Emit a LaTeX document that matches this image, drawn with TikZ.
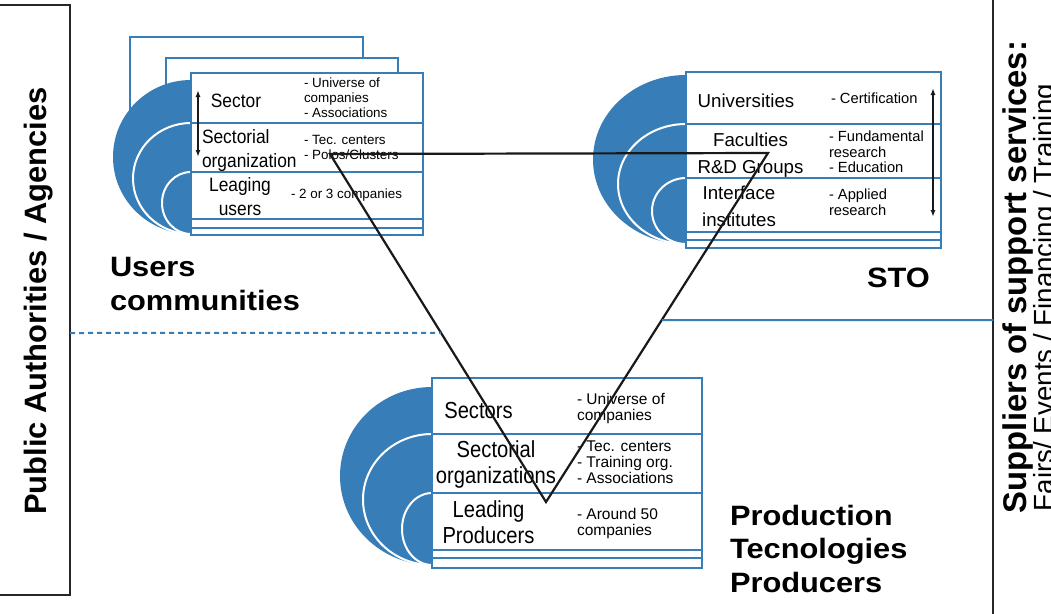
\documentclass[tikz,border=0pt]{standalone}
\usepackage{fontspec}
\setmainfont{Liberation Sans}
\newfontfamily\usfont{Liberation Sans}[FakeStretch=0.9]
\newfontfamily\prfont{Liberation Sans}[FakeStretch=0.87]
\newfontfamily\bigfont{Liberation Sans}[FakeStretch=1.1]
\usetikzlibrary{arrows.meta,calc}
\definecolor{blu}{RGB}{55,126,184}
\newcommand\setfs[2]{\fontsize{#1}{#2}\selectfont}
\begin{document}
\begin{tikzpicture}[x=1pt,y=-1pt,
  disk/.style={fill=blu},
  ring/.style={fill=blu,draw=white,line width=2pt},
  panel/.style={draw=blu,fill=white,line width=2pt},
  sep/.style={draw=blu,line width=2pt},
  tri/.style={draw=black!90,line width=2.2pt,line join=miter},
  dbl/.style={{Latex[length=7pt,width=5pt]}-{Latex[length=7pt,width=5pt]},line width=1.5pt,black!90},
  frame/.style={draw=black!85,line width=2pt},
  txt/.style={inner sep=0pt,outer sep=0pt},
  ua/.style={txt,font=\usfont\setfs{19.3}{24}},
  ub/.style={txt,font=\setfs{13.4}{15}},
  sa/.style={txt,font=\setfs{18.7}{27}},
  sb/.style={txt,font=\setfs{14.7}{15.5}},
  pa/.style={txt,font=\prfont\setfs{23.2}{26}},
  pb/.style={txt,font=\setfs{15.5}{16}},
  big/.style={txt,font=\bigfont\bfseries\setfs{28}{33.5},align=left,anchor=base west},
  lc/.style={align=left,anchor=base west},
  cc/.style={align=center,anchor=base}
]
\useasboundingbox (0,0) rectangle (1051,613);
\clip (0,0) rectangle (1051,613);
\fill[white] (0,0) rectangle (1051,613);

% side frames
\draw[frame] (-5,5) rectangle (70,595);
\draw[frame] (993,-5) rectangle (1070,620);
\node[txt,rotate=90,anchor=base,font=\bfseries\setfs{30.9}{33}] (pub) at (46,301) {Public Authorities / Agencies};
\node[txt,rotate=90,anchor=base west,font=\bfseries\setfs{32.8}{33}] (sup) at (1026,513) {Suppliers of support services:};
\node[txt,rotate=90,anchor=base west,font=\setfs{27.7}{30}] (fairs) at (1053,511) {Fairs/ Events / Financing / Training};

% ---------- Users communities ----------
\draw[panel] (130,37) rectangle (363,190);
\draw[panel] (166,58) rectangle (398,190);
\fill[disk] (191,157) ellipse [x radius=78pt, y radius=77pt];
\filldraw[ring] (191,178.5) ellipse [x radius=58pt, y radius=55.5pt];
\filldraw[ring] (191,203) ellipse [x radius=29pt, y radius=31pt];
\draw[panel] (191,73) rectangle (423,235);
\foreach \yy in {123,172,219,228} \draw[sep] (191,\yy) -- (423,\yy);
\node[ua,cc] (usec) at (236,107) {Sector};
\node[ua,lc] (usorg) at (202,167) {Sectorial\\organization};
\node[ua,cc] (uslead) at (240,215) {Leaging\\users};
\node[ub,lc] (usd1) at (304,117) {- Universe of\\companies\\- Associations};
\node[ub,lc] (usd2) at (304,159) {- Tec. centers\\- Polos/Clusters};
\node[ub,lc] (usd3) at (291,198) {- 2 or 3 companies};
\coordinate (ua1) at (198,90);
\coordinate (ua2) at (198,157);
\draw[dbl] (ua1) -- (ua2);
\node[big] (uslbl) at (110,310) {Users\\communities};

% ---------- STO ----------
\fill[disk] (686,159.5) ellipse [x radius=93pt, y radius=84.5pt];
\filldraw[ring] (686,184) ellipse [x radius=68pt, y radius=60pt];
\filldraw[ring] (686,211) ellipse [x radius=34pt, y radius=33pt];
\draw[panel] (686,72) rectangle (941,248);
\foreach \yy in {124,178,232,240} \draw[sep] (686,\yy) -- (941,\yy);
\node[sa,cc] (stuni) at (746,107) {Universities};
\node[sb,lc] (stcert) at (831,103) {- Certification};
\node[sa,cc] (stfac) at (750.5,173) {Faculties\\R\&D Groups};
\node[sb,lc] (stfund) at (829,172.7) {- Fundamental\\research\\- Education};
\node[sa,cc] (stint) at (739,226) {Interface\\institutes};
\node[sb,lc] (stapp) at (829,215) {- Applied\\research};
\coordinate (sa1) at (933,88);
\coordinate (sa2) at (933,217);
\draw[dbl] (sa1) -- (sa2);
\node[big] (stlbl) at (867,287) {STO};

% ---------- Production ----------
\fill[disk] (432,476) ellipse [x radius=92pt, y radius=89pt];
\filldraw[ring] (432,499.5) ellipse [x radius=69pt, y radius=65.5pt];
\filldraw[ring] (432,529) ellipse [x radius=30pt, y radius=36pt];
\draw[panel] (432,378) rectangle (702,568);
\foreach \yy in {434,493,550,558} \draw[sep] (432,\yy) -- (702,\yy);
\node[pa,cc] (prsec) at (478.5,418) {Sectors};
\node[pb,lc] (prd1) at (577,420) {- Universe of\\companies};
\node[pa,cc] (prorg) at (496,483) {Sectorial\\organizations};
\node[pb,lc] (prd2) at (577,483) {- Tec. centers\\- Training org.\\- Associations};
\node[pa,cc] (prlead) at (488.5,543) {Leading\\Producers};
\node[pb,lc] (prd3) at (577,535) {- Around 50\\companies};
\node[big] (prlbl) at (730,592) {Production\\Tecnologies\\Producers};

% ---------- triangle and links ----------
\coordinate (A) at (330,154);
\coordinate (B) at (768,153);
\coordinate (C) at (546,502);
\draw[tri] (A) -- (B) -- (C) -- cycle;
\coordinate (dl) at (70,333);
\coordinate (dr) at ($(A)!0.514!(C)$);
\draw[blu,line width=2pt,dash pattern=on 5pt off 4pt] (dl) -- (dr);
\coordinate (sl) at ($(B)!0.4785!(C)$);
\coordinate (sr) at (993,320);
\draw[blu,line width=2pt] (sl) -- (sr);
\end{tikzpicture}
\end{document}
